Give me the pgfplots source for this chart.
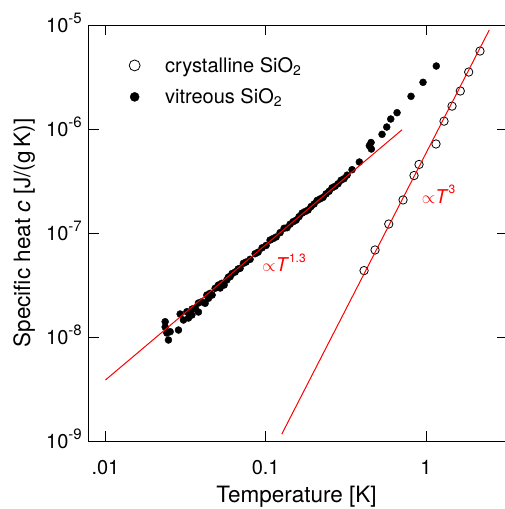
\documentclass[border=0pt]{standalone}
\usepackage{fontspec}
\setmainfont{TeX Gyre Heros}
\usepackage{pgfplots}
\pgfplotsset{compat=1.18}
\newcommand{\sups}[1]{\raisebox{0.45em}{\fontsize{15}{15}\selectfont #1}}
\newcommand{\lsup}[1]{\raisebox{0.5em}{\fontsize{12}{12}\selectfont #1}}

\pgfplotstableread{
T c
0.02359 1.403e-8
0.02359 1.248e-8
0.02417 1.093e-8
0.02473 9.36e-9
0.02535 1.125e-8
0.02856 1.167e-8
0.02926 1.664e-8
0.03068 1.457e-8
0.03222 1.751e-8
0.03297 1.523e-8
0.03462 1.627e-8
0.03476 1.858e-8
0.03630 1.900e-8
0.03805 1.739e-8
0.03805 2.123e-8
0.03996 2.184e-8
0.04190 2.109e-8
0.04293 2.533e-8
0.04393 2.356e-8
0.04501 2.631e-8
0.04631 2.533e-8
0.04835 2.940e-8
0.05070 3.162e-8
0.05195 2.959e-8
0.05324 3.283e-8
0.05502 3.162e-8
0.05721 3.533e-8
0.05854 3.775e-8
0.05999 3.801e-8
0.06173 4.080e-8
0.06445 4.217e-8
0.06728 4.506e-8
0.06924 4.577e-8
0.07261 5.113e-8
0.07546 5.262e-8
0.07993 5.585e-8
0.08590 6.326e-8
0.08968 6.544e-8
0.09497 7.208e-8
0.1006 7.595e-8
0.1065 8.556e-8
0.1112 8.850e-8
0.1161 9.155e-8
0.1230 1.0085e-7
0.1302 1.111e-7
0.1359 1.124e-7
0.1419 1.215e-7
0.1482 1.285e-7
0.1547 1.329e-7
0.1615 1.438e-7
0.1686 1.554e-7
0.1760 1.608e-7
0.1838 1.663e-7
0.1919 1.798e-7
0.2003 1.902e-7
0.2091 2.057e-7
0.2184 2.128e-7
0.2280 2.201e-7
0.2380 2.380e-7
0.2485 2.517e-7
0.2594 2.721e-7
0.2708 2.815e-7
0.2828 2.977e-7
0.2952 3.219e-7
0.3082 3.330e-7
0.3218 3.600e-7
0.3457 4.062e-7
0.3839 4.815e-7
0.4431 6.909e-7
0.4541 7.418e-7
0.4560 6.423e-7
0.5317 8.892e-7
0.5689 1.045e-6
0.6025 1.248e-6
0.6596 1.435e-6
0.8063 2.063e-6
0.9578 2.812e-6
1.159 4.035e-6
}\vitreous

\pgfplotstableread{
T c
2.171 5.62e-6
1.846 3.53e-6
1.636 2.32e-6
1.453 1.66e-6
1.295 1.19e-6
1.154 7.18e-7
0.9045 4.56e-7
0.8417 3.57e-7
0.7190 2.08e-7
0.5855 1.22e-7
0.4809 6.87e-8
0.4107 4.35e-8
}\crystal

\begin{document}
\begin{tikzpicture}
\begin{axis}[
  scale only axis, width=418pt, height=416pt,
  xmode=log, ymode=log,
  xmin=0.0079, xmax=3.2, ymin=1e-9, ymax=1e-5,
  clip marker paths=true,
  xtick={0.01,0.1,1}, xticklabels={.01,0.1,1},
  ytick={1e-9,1e-8,1e-7,1e-6,1e-5},
  yticklabels={10\sups{-9},10\sups{-8},10\sups{-7},10\sups{-6},10\sups{-5}},
  xminorticks=false, yminorticks=false,
  tick align=inside, major tick length=10pt,
  axis line style={line width=1pt},
  every tick/.style={black, line width=0.9pt},
  tick label style={font=\fontsize{20}{24}\selectfont, inner sep=0pt},
  xticklabel style={anchor=base, yshift=-33pt},
  yticklabel style={anchor=base east, xshift=-7pt, yshift=-7pt},
  every axis x label/.style={at={(axis description cs:0.4964,-0.149)}, anchor=base, font=\fontsize{22.5}{27}\selectfont, inner sep=0pt},
  every axis y label/.style={at={(axis description cs:-0.1411,0.5)}, rotate=90, anchor=base, font=\fontsize{22.5}{27}\selectfont, inner sep=0pt},
  xlabel={Temperature [K]},
  ylabel={Specific heat \textit{c} [J/(g\,K)]},
  legend style={draw=none, fill=none, at={(axis description cs:0,1)}, anchor=north west,
    font=\fontsize{20}{24}\selectfont, inner sep=0pt, row sep=11pt,
    xshift=40pt, yshift=-30pt,
    /tikz/every odd column/.append style={column sep=23pt}},
  legend cell align=left,
  legend image code/.code={\draw[#1] plot coordinates {(0pt,0pt)};},
  legend image post style={every mark/.append style={scale=1.3}},
]
\addplot[only marks, mark=o, black, mark size=4.2pt, line width=0.8pt] table[x=T,y=c] {\crystal};
\addlegendentry{crystalline SiO\textsubscript{2}}
\addplot[only marks, mark=*, black, mark size=3.5pt] table[x=T,y=c] {\vitreous};
\addlegendentry{vitreous SiO\textsubscript{2}}
\addplot[red, line width=1pt, forget plot] coordinates {(0.01,3.86e-9) (0.709,9.84e-7)};
\addplot[red, line width=1pt, forget plot] coordinates {(0.126,1.167e-9) (2.48,8.95e-6)};
\node[anchor=base west, red, inner sep=0pt, font=\fontsize{19}{22}\selectfont] at (axis cs:0.095,4.22e-8) {$\propto$\textit{T}\lsup{1.3}};
\node[anchor=base west, red, inner sep=0pt, font=\fontsize{19}{22}\selectfont] at (axis cs:0.940,1.943e-7) {$\propto$\textit{T}\lsup{3}};
\end{axis}
\pgfresetboundingbox
\useasboundingbox (-89pt,-68pt) rectangle (416pt,441pt);
\end{tikzpicture}
\end{document}
